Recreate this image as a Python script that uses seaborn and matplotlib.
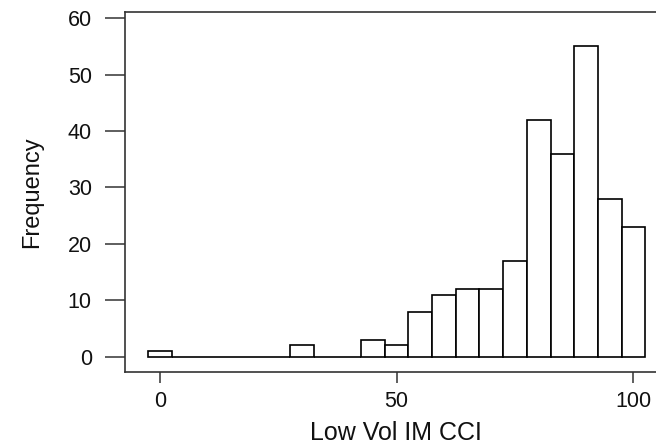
import matplotlib
matplotlib.use("Agg")
import matplotlib.pyplot as plt
import seaborn as sns
import pandas as pd

# Data (bins of width 5, centred on multiples of 5)
bin_centers = [0, 5, 10, 15, 20, 25, 30, 35, 40, 45, 50, 55, 60, 65, 70, 75, 80, 85, 90, 95, 100]
counts = [1, 0, 0, 0, 0, 0, 2, 0, 0, 3, 2, 8, 11, 12, 12, 17, 42, 36, 55, 28, 23]
x_ticks = [0, 50, 100]
y_ticks = [0, 10, 20, 30, 40, 50, 60]
x_label = "Low Vol IM CCI"
y_label = "Frequency"

df = pd.DataFrame({"value": bin_centers, "count": counts})

sns.set_theme(style="white")
plt.rcParams["font.family"] = ["Liberation Sans", "DejaVu Sans"]

W, H = 656, 444
fig = plt.figure(figsize=(W / 100, H / 100), dpi=100)
ax = fig.add_axes([125 / W, (H - 372) / H, 541 / W, 360 / H])

sns.histplot(data=df, x="value", weights="count", binwidth=5, binrange=(-2.5, 102.5),
             fill=True, color="white", edgecolor="black", linewidth=1.2, alpha=1,
             ax=ax)

ax.set_xlim(-7.39, 106.9)
ax.set_ylim(-2.71, 61.1)
ax.set_xticks(x_ticks)
ax.set_yticks(y_ticks)
ax.set_xticklabels([str(v) for v in x_ticks])
ax.set_yticklabels([str(v) for v in y_ticks])

edge = "#333333"
for s in ax.spines.values():
    s.set_visible(True)
    s.set_color(edge)
    s.set_linewidth(1.2)

ax.tick_params(axis="y", direction="out", length=14.4, width=1.1, color=edge,
               labelsize=15.5, pad=9.5, labelcolor="#111111", left=True)
ax.tick_params(axis="x", direction="out", length=8, width=1.1, color=edge,
               labelsize=15.5, pad=6, labelcolor="#111111", bottom=True)

ax.set_xlabel(x_label, fontsize=18, color="#111111", labelpad=6)
ax.set_ylabel(y_label, fontsize=17, color="#111111", labelpad=18)
ax.grid(False)
ax.set_facecolor("white")
fig.patch.set_facecolor("white")

fig.savefig("out.png", dpi=100)
